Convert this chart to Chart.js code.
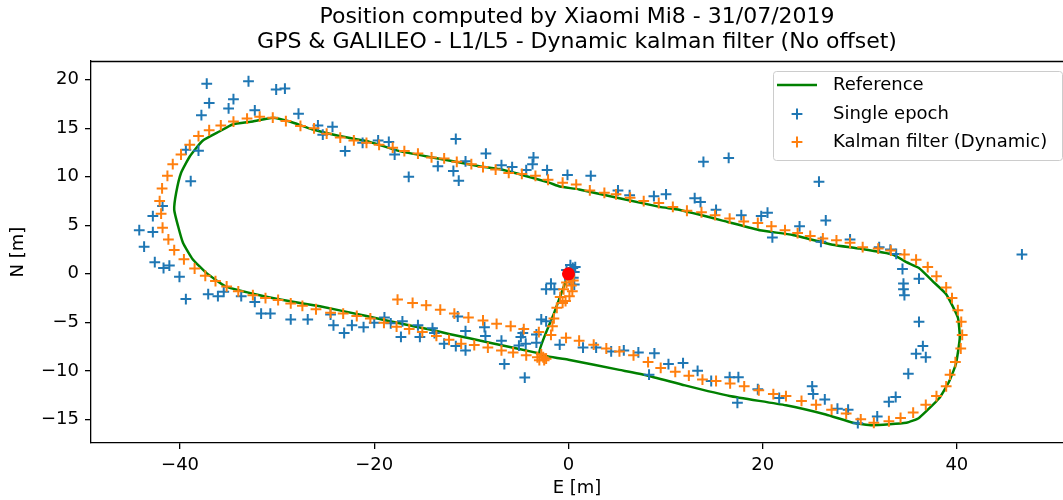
<!DOCTYPE html>
<html>
<head>
<meta charset="utf-8">
<title>Position computed by Xiaomi Mi8</title>
<script src="https://cdn.jsdelivr.net/npm/chart.js@4.4.0/dist/chart.umd.min.js"></script>
<style>
  html, body { margin: 0; padding: 0; background: #fff; }
  #wrap { width: 1063px; height: 500px; }
</style>
</head>
<body>
<div id="wrap"><canvas id="posChart" width="1063" height="500"></canvas></div>
<script>
// ---------------------------------------------
// Données (E, N en mètres)
// ---------------------------------------------
const titleLines = [
  'Position computed by Xiaomi Mi8 - 31/07/2019',
  'GPS & GALILEO - L1/L5 - Dynamic kalman filter (No offset)'
];
const xTicks = [-40, -20, 0, 20, 40];
const yTicks = [-15, -10, -5, 0, 5, 10, 15, 20];

// trajet de référence (ligne verte)
const refTrack = [
  [0, 0], [-1.5, -4.1], [-3.0, -8.2], [0, -8.85], [5.25, -9.9], [8.0, -10.45],
  [12.0, -11.5], [16.6, -12.6], [22.4, -13.55], [26.5, -14.5], [29.3, -15.35],
  [31.3, -15.6], [34.8, -15.35], [36.1, -14.85], [38.2, -12.8], [39.2, -11.1],
  [39.9, -9.3], [40.3, -6.6], [40.1, -4.5], [38.9, -2.1], [37.5, -0.75],
  [36.1, 0.6], [34.8, 1.2], [33.4, 2.0], [30.0, 2.6], [27.2, 3.0], [23.1, 4.0],
  [19.7, 4.5], [16.4, 5.35], [11.4, 6.6], [9.4, 6.9], [1.1, 8.7], [-0.9, 9.0],
  [-2.0, 9.4], [-7.1, 10.8], [-9.2, 11.1], [-14.0, 12.0], [-17.4, 12.65],
  [-19.5, 13.3], [-20.8, 13.7], [-23.6, 14.2], [-26.4, 14.9], [-28.7, 15.7],
  [-30.45, 16.1], [-32.5, 15.7], [-34.6, 15.4], [-35.9, 14.7], [-37.7, 13.7],
  [-39.0, 12.1], [-39.9, 10.4], [-40.4, 8.35], [-40.6, 6.6], [-40.2, 4.9],
  [-39.7, 3.2], [-38.7, 1.5], [-37.3, 0.1], [-35.3, -1.3], [-32.5, -2.05],
  [-29.1, -2.75], [-25.6, -3.35], [-20.8, -4.35], [-17.4, -5.1],
  [-14.0, -5.8], [-12.3, -6.2], [-8.1, -7.1], [-3.0, -8.2]
];

// positions "single epoch" (croix bleues)
const singleEpoch = [
  [-37.25, 19.6], [-32.95, 19.85], [-30.1, 19.0], [-29.2, 19.1], [-37.0, 17.6],
  [-34.5, 18.0], [-35.0, 17.05], [-37.8, 16.35], [-32.3, 16.85], [-27.8, 16.5],
  [-25.8, 15.3], [-24.3, 15.15], [-25.3, 14.35], [-39.4, 12.8], [-38.1, 12.7],
  [-38.9, 9.55], [-41.8, 7.0], [-42.8, 5.95], [-44.2, 4.5], [-42.8, 4.3],
  [-43.7, 2.8], [-42.6, 1.2], [-41.7, 0.6], [-41.1, 0.85], [-40.06, -0.3],
  [-39.4, -2.6], [-37.1, -2.1], [-36.1, -2.3], [-35.5, -1.85], [-33.7, -2.3],
  [-32.3, -2.9], [-31.65, -4.1], [-30.7, -4.1], [-28.6, -4.7], [-26.85, -4.7],
  [-24.5, -4.2], [-24.2, -5.3], [-23.1, -6.1], [-22.3, -5.3], [-21.1, -5.5],
  [-20.0, -5.05], [-18.95, -4.5], [-18.3, -5.1], [-17.25, -6.5], [-17.1, -4.9],
  [-15.5, -5.3], [-15.3, -6.5], [-14.0, -5.6], [-13.8, -6.1], [-12.8, -7.2],
  [-11.6, -7.45], [-11.4, -4.4], [-10.6, -5.9], [-10.6, -7.9], [-8.65, -5.5],
  [-8.55, -6.4], [-6.9, -6.9], [-6.6, -9.3], [-4.5, -10.7], [-5.1, -7.4],
  [-4.9, -6.5], [-4.4, -7.2], [-4.7, -6.1], [-3.3, -6.25], [-3.3, -7.1],
  [-2.8, -4.7], [-2.3, -4.9], [-2.3, -1.6], [-1.8, -1.0], [-1.45, -1.6],
  [-0.9, -7.3], [0.45, 0.6], [0.2, 0.9], [0.6, 0.2], [-0.2, 0.4], [0.5, -0.4],
  [0.1, -0.6], [0.7, 0.7], [0.6, -1.1],
  [1.5, -7.6], [2.85, -7.6], [4.4, -8.0], [5.7, -7.9], [7.2, -8.1], [8.85, -8.2],
  [8.3, -10.4], [10.3, -9.3], [11.8, -9.2], [13.3, -10.0], [14.7, -11.05],
  [16.6, -10.65], [17.5, -10.65], [17.4, -13.3], [19.5, -11.9], [21.7, -12.8],
  [25.1, -11.6], [25.2, -12.4], [26.4, -12.95], [27.7, -13.9], [28.8, -14.0],
  [29.8, -15.4], [31.8, -14.7], [33.0, -13.2], [33.7, -12.7], [35.0, -10.3],
  [35.8, -8.25], [36.5, -7.45], [36.8, -8.6], [36.1, -4.95], [34.4, 0.5],
  [36.1, -0.5], [34.5, -1.0], [34.5, -1.6], [34.6, -2.2], [46.7, 2.0],
  [33.75, 2.05], [33.15, 2.5], [32.0, 2.75], [29.0, 3.55], [26.0, 3.3],
  [21.0, 3.75], [26.5, 5.5], [25.8, 9.5], [23.8, 4.9], [20.5, 6.3], [19.85, 5.95],
  [17.8, 6.05], [15.2, 6.6], [16.5, 11.95], [13.9, 11.55], [13.6, 7.4],
  [13.0, 7.8], [10.05, 8.2], [8.8, 8.0], [6.3, 8.1], [5.1, 8.6], [2.3, 10.1],
  [-0.1, 10.2], [-2.2, 10.7], [-3.6, 12.0], [-3.7, 11.3], [-4.35, 10.7],
  [-5.8, 11.0], [-6.9, 11.2], [-8.5, 12.4], [-10.6, 11.6], [-11.3, 9.6],
  [-11.85, 10.6], [-13.45, 11.1], [-11.6, 13.9], [-16.45, 10.0], [-17.9, 12.3],
  [-18.5, 13.6], [-19.6, 13.75], [-21.2, 13.5], [-23.0, 12.65]
];

// filtre de Kalman dynamique (croix orange)
const kalmanDyn = [
  [-17.6, -2.65], [-16.05, -3.0], [-14.65, -3.25], [-13.2, -3.7], [-11.75, -4.1],
  [-10.3, -4.5], [-8.8, -4.8], [-7.4, -5.15], [-5.95, -5.4], [-4.6, -5.7],
  [-3.05, -6.0],
  [-1.8, -6.3], [-1.65, -5.4], [-1.5, -4.6], [-1.2, -3.5], [-0.85, -2.4],
  [-0.5, -1.6], [-0.2, -0.9], [0.1, -0.3], [0.3, -1.2], [0.4, -1.8], [0.1, -2.3],
  [-0.3, -2.8], [0.5, -0.7], [-0.6, -3.0],
  [-0.25, -6.6], [1.1, -6.9], [2.6, -7.3], [3.9, -7.7], [5.25, -8.0], [6.7, -8.4],
  [8.2, -9.1], [9.5, -9.7], [11.0, -10.1], [12.4, -10.5], [13.8, -10.9],
  [15.2, -11.05], [16.65, -11.3], [18.1, -11.6], [19.6, -12.0], [21.1, -12.4],
  [22.4, -12.6], [24.0, -13.1], [25.5, -13.5], [27.1, -14.0], [28.6, -14.4],
  [30.1, -15.0], [31.45, -15.35], [33.0, -15.2], [34.2, -14.85], [35.5, -14.3],
  [36.8, -13.5], [37.9, -12.6], [38.9, -11.6], [39.3, -10.4], [39.85, -9.1],
  [40.4, -7.7], [40.55, -6.3], [40.45, -4.95], [40.1, -3.75], [39.5, -2.5],
  [38.9, -1.4], [37.9, -0.25], [37.0, 0.7], [35.8, 1.45], [34.6, 2.0],
  [33.2, 2.4], [31.9, 2.6], [30.3, 2.75], [29.0, 3.2], [27.6, 3.45], [26.2, 3.65],
  [24.9, 3.9], [23.6, 4.2], [22.3, 4.5], [20.9, 4.9], [19.5, 5.25], [18.05, 5.4],
  [16.6, 5.7], [15.1, 6.05], [13.7, 6.35], [12.2, 6.5], [10.75, 6.9], [9.3, 7.3],
  [7.75, 7.5], [6.35, 7.85], [4.9, 8.2], [3.7, 8.35], [2.2, 8.6], [0.8, 9.2],
  [-0.6, 9.4], [-2.1, 9.7], [-3.4, 10.1], [-4.8, 10.3], [-6.15, 10.4],
  [-7.5, 10.75], [-8.8, 11.0], [-10.0, 11.3], [-11.5, 11.55], [-12.8, 11.9],
  [-14.1, 12.0], [-15.5, 12.4], [-16.9, 12.65], [-18.1, 13.0], [-19.5, 13.3],
  [-20.8, 13.5], [-22.1, 13.75], [-23.5, 14.05], [-24.9, 14.45], [-26.2, 15.0],
  [-27.6, 15.25], [-29.1, 15.75], [-30.45, 16.1], [-31.8, 16.2], [-33.1, 16.0],
  [-34.5, 15.7], [-35.8, 15.3], [-37.0, 14.8], [-38.1, 14.2], [-39.0, 13.3],
  [-39.9, 12.3], [-40.75, 11.3], [-41.3, 10.1], [-41.85, 8.8], [-42.1, 7.5],
  [-41.95, 6.2], [-41.8, 4.75], [-41.2, 3.55], [-40.6, 2.45], [-39.6, 1.5],
  [-38.5, 0.55], [-37.4, -0.2], [-36.35, -0.75], [-35.2, -1.3], [-34.0, -1.8],
  [-32.5, -2.2], [-31.2, -2.5], [-29.9, -2.7], [-28.6, -3.05], [-27.4, -3.3],
  [-26.0, -3.65], [-24.5, -4.0], [-23.2, -4.1], [-21.8, -4.35], [-20.4, -4.6],
  [-19.0, -5.05], [-17.7, -5.45], [-16.4, -5.7], [-15.05, -6.0], [-13.6, -6.4],
  [-12.3, -6.8], [-11.05, -7.2], [-9.7, -7.35], [-8.3, -7.6], [-6.9, -7.9],
  [-5.7, -8.1], [-4.35, -8.4], [-3.2, -8.6], [-3.0, -8.9], [-2.6, -8.6],
  [-2.3, -8.75], [-2.8, -8.3], [-2.5, -8.9]
];

// point de départ (rond rouge)
const startPoint = [[0, 0]];

// -------------------------------
// Configuration du graphique
// -------------------------------
Chart.defaults.font.family = "'DejaVu Sans', sans-serif";
Chart.defaults.color = '#000';

const toXY = pts => pts.map(p => ({ x: p[0], y: p[1] }));
const fmtMinus = v => String(v).replace('-', '\u2212');

const BLUE = '#1f77b4';
const ORANGE = '#ff7f0e';
const GREEN = '#008000';

// titre, cadre du haut et légende dessinés à la main (style matplotlib)
const framePlugin = {
  id: 'mplFrame',
  afterDraw(chart) {
    const c = chart.ctx;
    const a = chart.chartArea;
    c.save();

    // spine du haut
    c.strokeStyle = '#000';
    c.lineWidth = 1.3;
    c.beginPath();
    c.moveTo(a.left, a.top + 0.5);
    c.lineTo(a.right, a.top + 0.5);
    c.stroke();

    // titre sur deux lignes
    c.fillStyle = '#000';
    c.font = "22px 'DejaVu Sans'";
    c.textAlign = 'center';
    c.textBaseline = 'middle';
    const cx = (a.left + a.right) / 2;
    c.fillText(titleLines[0], cx, 17);
    c.fillText(titleLines[1], cx, 42);

    // légende
    c.beginPath();
    c.roundRect(773.5, 71.5, 289, 89, 3);
    c.fillStyle = 'rgba(255,255,255,0.8)';
    c.fill();
    c.strokeStyle = '#cccccc';
    c.lineWidth = 1;
    c.stroke();

    c.strokeStyle = GREEN;
    c.lineWidth = 2.5;
    c.beginPath();
    c.moveTo(777, 85);
    c.lineTo(817, 85);
    c.stroke();

    const cross = (x, y, col) => {
      c.strokeStyle = col;
      c.lineWidth = 2;
      c.beginPath();
      c.moveTo(x - 5.4, y); c.lineTo(x + 5.4, y);
      c.moveTo(x, y - 5.4); c.lineTo(x, y + 5.4);
      c.stroke();
    };
    cross(797, 114, BLUE);
    cross(797, 142, ORANGE);

    c.fillStyle = '#000';
    c.font = "18px 'DejaVu Sans'";
    c.textAlign = 'left';
    c.fillText('Reference', 833, 85);
    c.fillText('Single epoch', 833, 114);
    c.fillText('Kalman filter (Dynamic)', 833, 142);
    c.restore();
  }
};

const axisStyle = {
  grid: { display: true, drawOnChartArea: false, drawTicks: true, tickLength: 6, color: '#000', lineWidth: 1.3 },
  border: { display: true, color: '#000', width: 1.3 }
};

const ctx = document.getElementById('posChart').getContext('2d');
new Chart(ctx, {
  type: 'scatter',
  data: {
    datasets: [
      {
        label: 'Start',
        data: toXY(startPoint),
        pointStyle: 'circle',
        pointRadius: 6.5,
        backgroundColor: '#ff0000',
        borderColor: '#ff0000',
        borderWidth: 0,
        order: 0
      },
      {
        label: 'Kalman filter (Dynamic)',
        data: toXY(kalmanDyn),
        pointStyle: 'cross',
        pointRadius: 5.4,
        borderColor: ORANGE,
        borderWidth: 2,
        order: 1
      },
      {
        label: 'Single epoch',
        data: toXY(singleEpoch),
        pointStyle: 'cross',
        pointRadius: 5.4,
        borderColor: BLUE,
        borderWidth: 2,
        order: 2
      },
      {
        label: 'Reference',
        data: toXY(refTrack),
        showLine: true,
        borderColor: GREEN,
        borderWidth: 2.5,
        pointRadius: 0,
        tension: 0.15,
        order: 3
      }
    ]
  },
  options: {
    responsive: false,
    animation: false,
    events: [],
    layout: { autoPadding: false, padding: { top: 61, left: 0, right: 0, bottom: 0 } },
    plugins: {
      legend: { display: false },
      tooltip: { enabled: false },
      title: { display: false }
    },
    scales: {
      x: {
        type: 'linear',
        min: -49.17,
        max: 50.93,
        ...axisStyle,
        afterFit: s => { s.height = 57; s.paddingLeft = 0; s.paddingRight = 0; },
        afterBuildTicks: s => { s.ticks = xTicks.map(v => ({ value: v })); },
        ticks: { font: { size: 18 }, padding: 6, maxRotation: 0, callback: fmtMinus },
        title: { display: true, text: 'E [m]', font: { size: 18 }, padding: { top: 0, bottom: 1 } }
      },
      y: {
        type: 'linear',
        min: -17.44,
        max: 21.94,
        ...axisStyle,
        afterFit: s => { s.width = 91; s.paddingTop = 0; s.paddingBottom = 0; },
        afterBuildTicks: s => { s.ticks = yTicks.map(v => ({ value: v })); },
        ticks: { font: { size: 18 }, padding: 6, callback: fmtMinus },
        title: { display: true, text: 'N [m]', font: { size: 18 }, padding: { top: 8, bottom: 0 } }
      }
    }
  },
  plugins: [framePlugin]
});
</script>
</body>
</html>
